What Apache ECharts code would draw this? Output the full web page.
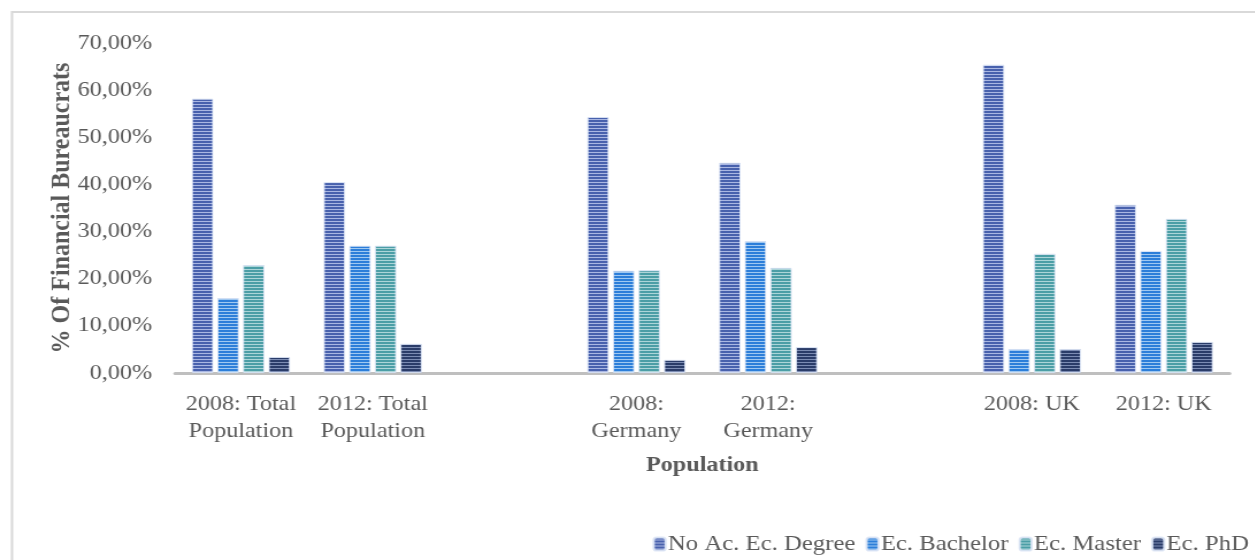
<!DOCTYPE html>
<html>
<head>
<meta charset="utf-8">
<script src="https://cdn.jsdelivr.net/npm/echarts@6/dist/echarts.min.js"></script>
<style>
  html, body { margin: 0; padding: 0; background: #fff; overflow: hidden; }
  #chart { height: 560px; transform-origin: 0 0; }
</style>
</head>
<body>
<div id="chart"></div>
<script>
// categories (blank slots keep the gaps between country groups)
const categories = [
  '2008: Total\nPopulation', '2012: Total\nPopulation', '',
  '2008:\nGermany', '2012:\nGermany', '',
  '2008: UK', '2012: UK'
]
const seriesNames = ['No Ac. Ec. Degree', 'Ec. Bachelor', 'Ec. Master', 'Ec. PhD']

const noDegree = [0.582, 0.405, '-', 0.543, 0.446, '-', 0.654, 0.357]
const bachelor = [0.159, 0.270, '-', 0.217, 0.280, '-', 0.051, 0.259]
const master   = [0.229, 0.270, '-', 0.218, 0.223, '-', 0.253, 0.327]
const phd      = [0.034, 0.062, '-', 0.028, 0.055, '-', 0.051, 0.066]

const yTicks = { min: 0, max: 0.7, step: 0.1 }

// the source picture is a horizontally stretched office chart, so the
// whole canvas is drawn narrower and widened back with a scaleX
const stretch = 1.15
const W = 1255 / stretch
const px = (v) => v / stretch

// horizontal stripe fill, like the office-style pattern in the source
function stripes(dark, light) {
  const c = document.createElement('canvas')
  c.width = 4
  c.height = 3
  const ctx = c.getContext('2d')
  ctx.fillStyle = dark
  ctx.fillRect(0, 0, 4, 2)
  ctx.fillStyle = light
  ctx.fillRect(0, 2, 4, 1)
  return { image: c, repeat: 'repeat' }
}

const fills = [
  stripes('#4861ad', '#aab7e2'),
  stripes('#2c7ed9', '#9fc8f1'),
  stripes('#4b9ea6', '#acd5d8'),
  stripes('#2a3c69', '#7c8cb3'),
]
const values = [noDegree, bachelor, master, phd]

const textColor = '#595959'
const font = 'Liberation Serif, Times New Roman, serif'

const el = document.getElementById('chart')
el.style.width = W + 'px'
el.style.transform = 'scaleX(' + stretch + ')'
const chart = echarts.init(el)

chart.setOption({
  animation: false,
  textStyle: { fontFamily: font, color: textColor },
  graphic: [{
    type: 'rect',
    shape: { x: px(12), y: 12, width: W, height: 600 },
    style: { fill: 'none', stroke: '#d9d9d9', lineWidth: 2 },
    silent: true,
  }],
  grid: { left: px(175), right: px(25), top: 43, bottom: 187 },
  legend: {
    data: seriesNames,
    right: 0,
    top: 528,
    itemWidth: px(12),
    itemHeight: 13,
    itemGap: px(10),
    textStyle: { fontFamily: font, fontSize: 21.5, color: textColor, padding: [0, 0, 0, -3] },
  },
  xAxis: {
    type: 'category',
    data: categories,
    name: 'Population',
    nameLocation: 'middle',
    nameGap: 82,
    nameTextStyle: { fontFamily: font, fontSize: 21, fontWeight: 'bold', color: textColor },
    axisLine: { lineStyle: { color: '#bfbfbf', width: 3 } },
    axisTick: { show: false },
    axisLabel: {
      interval: 0,
      margin: 18,
      fontFamily: font,
      fontSize: 21,
      lineHeight: 27,
      color: textColor,
    },
  },
  yAxis: {
    type: 'value',
    min: yTicks.min,
    max: yTicks.max,
    interval: yTicks.step,
    name: '% Of Financial Bureaucrats',
    nameLocation: 'middle',
    nameGap: 86,
    nameMoveOverlap: false,
    nameTextStyle: { fontFamily: font, fontSize: 24, fontWeight: 'bold', color: textColor },
    splitLine: { show: false },
    axisLine: { show: false },
    axisTick: { show: false },
    axisLabel: {
      margin: 20,
      fontFamily: font,
      fontSize: 21,
      color: textColor,
      formatter: (v) => (v * 100).toFixed(2).replace('.', ',') + '%',
    },
  },
  series: seriesNames.map((name, i) => ({
    name,
    type: 'bar',
    data: values[i],
    barWidth: px(21.5),
    barGap: '19%',
    itemStyle: {
      color: fills[i],
      borderColor: 'rgba(220,228,245,0.9)',
      borderWidth: 1,
    },
  })),
})
</script>
</body>
</html>
